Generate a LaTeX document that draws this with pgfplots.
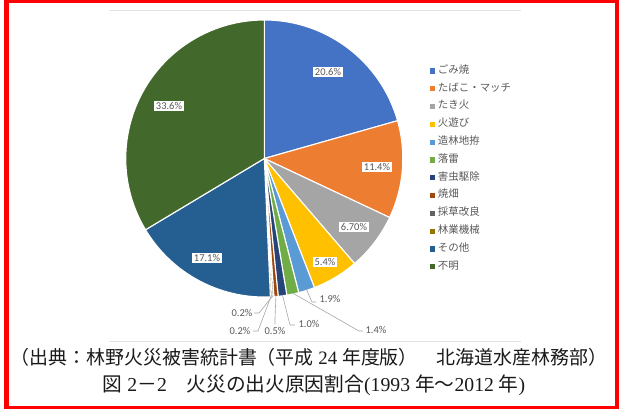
\documentclass[border=0pt]{standalone}
\usepackage{fontspec}
\setmainfont{Liberation Serif}
\newfontfamily\cjk{Noto Sans CJK JP}
\newfontfamily\lab{Carlito}
\usepackage{pgfplots}
\usepackage{pgfplotstable}
\pgfplotsset{compat=1.18}

\definecolor{c1}{HTML}{4472C4}
\definecolor{c2}{HTML}{ED7D31}
\definecolor{c3}{HTML}{A5A5A5}
\definecolor{c4}{HTML}{FFC000}
\definecolor{c5}{HTML}{5B9BD5}
\definecolor{c6}{HTML}{70AD47}
\definecolor{c7}{HTML}{264478}
\definecolor{c8}{HTML}{9E480E}
\definecolor{c9}{HTML}{636363}
\definecolor{c10}{HTML}{997300}
\definecolor{c11}{HTML}{255E91}
\definecolor{c12}{HTML}{43682B}
\definecolor{txtgray}{HTML}{595959}
\definecolor{leadgray}{HTML}{A6A6A6}
\definecolor{framegray}{HTML}{E3E3E3}
\definecolor{captxt}{HTML}{1A1A1A}

\tikzset{
  plabel/.style={fill=white, inner xsep=2bp, inner ysep=1.5bp, text=txtgray,
    font=\lab\fontsize{10.5}{11}\selectfont},
  leader/.style={draw=leadgray, line width=0.6bp},
}

% share of each cause (%), slice colour, label centre, leader elbow and end
% (positions in picture units, y downwards; ex < 0 means no leader line)
\pgfplotstableread[col sep=comma]{
name,value,col,lx,ly,ex,ey,fx,fy
ごみ焼,20.6,c1,328,72,-1,0,0,0
たばこ・マッチ,11.4,c2,377,167,-1,0,0,0
たき火,6.70,c3,354,227,-1,0,0,0
火遊び,5.4,c4,325,262,-1,0,0,0
造林地拵,1.9,c5,330,299,312,302,316,302
落雷,1.4,c6,376,330,359,331,363,331
害虫駆除,1.0,c7,309,324,290,325,295,325
焼畑,0.5,c8,275,331,275,318,275,324
採草改良,0.2,c9,242,313,259,313,254,313
林業機械,0.2,c10,240,331,258,331,253,331
その他,17.1,c11,207,258,-1,0,0,0
不明,33.6,c12,169,106,-1,0,0,0
}\piedata

\begin{document}
\begin{tikzpicture}
\begin{axis}[
  x=1bp, y=1bp, y dir=reverse,
  xmin=0, xmax=619, ymin=0, ymax=410,
  scale only axis, hide axis, clip=false,
  legend image code/.code={\fill[#1, draw=none] (0bp,-2.6bp) rectangle (5.2bp,2.6bp);},
  legend cell align=left,
  legend style={draw=none, fill=none, inner sep=0pt,
    at={(axis cs:429.5,65.5)}, anchor=north west,
    font=\cjk\fontsize{10.5}{12}\selectfont, text=txtgray,
    row sep=7.3bp,
    nodes={inner sep=0pt, text height=7.5bp, text depth=3bp},
    /tikz/every odd column/.append style={column sep=3bp}},
]
% background and frame
\fill[white] (axis cs:0,0) rectangle (axis cs:619,410);
\draw[framegray, line width=0.8bp] (axis cs:109,10.5) -- (axis cs:521,10.5);
\draw[framegray, line width=0.8bp] (axis cs:109,341) -- (axis cs:521,341);

\def\cx{264.3}
\def\cy{158.5}
\def\R{138.5}
\pgfplotstablegetrowsof{\piedata}
\pgfmathtruncatemacro\nrows{\pgfplotsretval-1}
\def\acc{0}
\pgfplotsforeachungrouped \i in {0,...,\nrows}{%
  \pgfplotstablegetelem{\i}{name}\of\piedata \let\nm\pgfplotsretval
  \pgfplotstablegetelem{\i}{value}\of\piedata \let\v\pgfplotsretval
  \pgfplotstablegetelem{\i}{col}\of\piedata \let\c\pgfplotsretval
  \pgfmathsetmacro\aS{90-\acc*3.6}%
  \pgfmathsetmacro\acc{\acc+\v}%
  \pgfmathsetmacro\aE{90-\acc*3.6}%
  \edef\temp{\noexpand\filldraw[fill=\c, draw=white, line width=1.1bp, line join=round]
    (axis cs:\cx,\cy) -- ++(\aS:\R bp) arc[start angle=\aS, end angle=\aE, radius=\R bp] -- cycle;
    \noexpand\addlegendimage{fill=\c}\noexpand\addlegendentry{\nm}}%
  \temp
}
% value labels and leader lines drawn on top of the slices
\def\acc{0}
\pgfplotsforeachungrouped \i in {0,...,\nrows}{%
  \pgfplotstablegetelem{\i}{value}\of\piedata \let\v\pgfplotsretval
  \pgfplotstablegetelem{\i}{lx}\of\piedata \let\lx\pgfplotsretval
  \pgfplotstablegetelem{\i}{ly}\of\piedata \let\ly\pgfplotsretval
  \pgfplotstablegetelem{\i}{ex}\of\piedata \let\ex\pgfplotsretval
  \pgfplotstablegetelem{\i}{ey}\of\piedata \let\ey\pgfplotsretval
  \pgfplotstablegetelem{\i}{fx}\of\piedata \let\fx\pgfplotsretval
  \pgfplotstablegetelem{\i}{fy}\of\piedata \let\fy\pgfplotsretval
  \pgfmathsetmacro\aS{90-\acc*3.6}%
  \pgfmathsetmacro\acc{\acc+\v}%
  \pgfmathsetmacro\aE{90-\acc*3.6}%
  \pgfmathsetmacro\aM{(\aS+\aE)/2}%
  \ifdim\ex pt>0pt
    \edef\temp{\noexpand\draw[leader] (axis cs:\cx,\cy) ++(\aM:\R bp-1bp)
      -- (axis cs:\ex,\ey) -- (axis cs:\fx,\fy);}%
    \temp
    \edef\temp{\noexpand\node[plabel, fill=none] at (axis cs:\lx,\ly) {\v\noexpand\%};}%
  \else
    \edef\temp{\noexpand\node[plabel] at (axis cs:\lx,\ly) {\v\noexpand\%};}%
  \fi
  \temp
}

% caption lines
\node[text=captxt, font=\fontsize{19}{21}\selectfont] at (axis cs:309,357)
  {{\cjk （出典：林野火災被害統計書（平成}~24~{\cjk 年度版）　北海道水産林務部）}};
\node[text=captxt, font=\fontsize{19.8}{21}\selectfont] at (axis cs:314,385)
  {{\cjk 図}~2{\cjk －}2{\cjk 　火災の出火原因割合}(1993~{\cjk 年〜}2012~{\cjk 年})};

% red outer frame
\fill[red] (axis cs:4,0) rectangle (axis cs:9,408.5);
\fill[red] (axis cs:4,0) rectangle (axis cs:619,3.2);
\fill[red] (axis cs:614.8,0) rectangle (axis cs:619,408.5);
\fill[red] (axis cs:4,405.8) rectangle (axis cs:619,408.5);
\end{axis}
\end{tikzpicture}
\end{document}
